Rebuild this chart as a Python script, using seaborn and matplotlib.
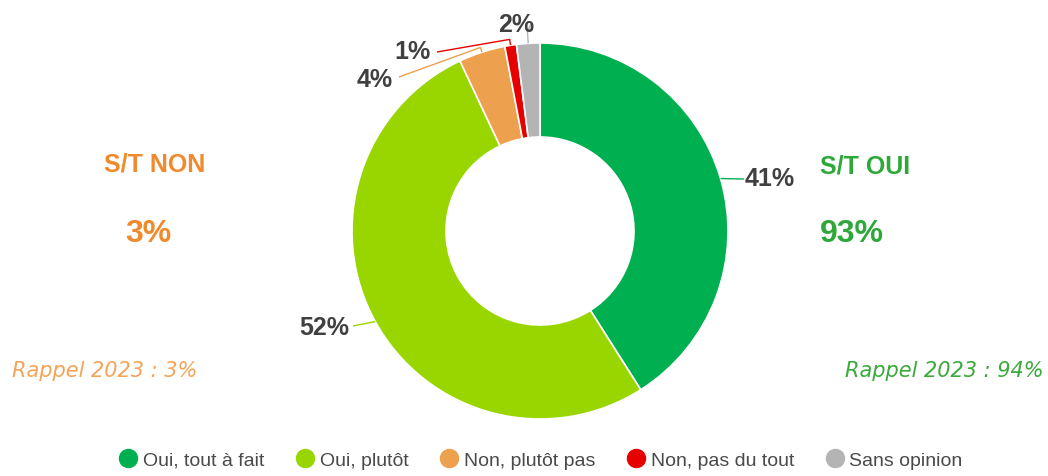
import numpy as np
import matplotlib
matplotlib.use("Agg")
import matplotlib.pyplot as plt
from matplotlib.lines import Line2D
import seaborn as sns

# data
categories = ["Oui, tout à fait", "Oui, plutôt", "Non, plutôt pas", "Non, pas du tout", "Sans opinion"]
values = [41, 52, 4, 1, 2]
value_labels = ["41%", "52%", "4%", "1%", "2%"]
colors = ["#00b050", "#99d600", "#eda04e", "#e60000", "#b4b4b4"]

total_oui_label = "S/T OUI"
total_oui = "93%"
rappel_oui = "Rappel 2023 : 94%"
total_non_label = "S/T NON"
total_non = "3%"
rappel_non = "Rappel 2023 : 3%"

# layout (pixel coordinates, y downwards)
CX, CY, R, RING = 540, 232, 188, 94
label_pos = [(770, 179), (324, 328), (375, 80), (413, 52), (516, 25)]
line_end = [(744, 180), (353, 327), (399, 78), (437, 53), (531, 25)]
elbow_r = [None, None, 193, 194, 200]

sns.set_theme(style="white")
plt.rcParams["font.family"] = ["Liberation Sans", "DejaVu Sans"]

fig = plt.figure(figsize=(10.48, 4.77), dpi=100)
ax = fig.add_axes([0, 0, 1, 1])

# inverted y axis -> counterclock in data space is clockwise on screen
ax.pie(values, colors=colors, radius=R, center=(CX, CY), startangle=-90,
       counterclock=True,
       wedgeprops=dict(width=RING, edgecolor="white", linewidth=1.2))
ax.set_xlim(0, 1048)
ax.set_ylim(477, 0)
ax.set_aspect("auto")
ax.axis("off")

# value labels with leader lines
cum = np.cumsum([0] + values[:-1])
for i, v in enumerate(values):
    theta = np.deg2rad((cum[i] + v / 2) / sum(values) * 360)
    px = CX + R * np.sin(theta)
    py = CY - R * np.cos(theta)
    xs, ys = [px], [py]
    if elbow_r[i] is not None:
        xs.append(CX + elbow_r[i] * np.sin(theta))
        ys.append(CY - elbow_r[i] * np.cos(theta))
    xs.append(line_end[i][0])
    ys.append(line_end[i][1])
    ax.plot(xs, ys, color=colors[i], lw=1, solid_capstyle="butt")
    ax.text(label_pos[i][0], label_pos[i][1], value_labels[i], ha="center", va="center",
            fontsize=18, fontweight="bold", color="#404040")

# side summaries
green_txt = "#2fa83a"
orange_txt = "#f08a2c"
ax.text(820, 167, total_oui_label, ha="left", va="center", fontsize=18,
        fontweight="bold", color=green_txt)
ax.text(820, 234, total_oui, ha="left", va="center", fontsize=23,
        fontweight="bold", color=green_txt)
ax.text(1044, 371, rappel_oui, ha="right", va="center", fontsize=15,
        style="italic", color="#3aaa3a", family=["DejaVu Sans"])

ax.text(155, 165, total_non_label, ha="center", va="center", fontsize=18,
        fontweight="bold", color=orange_txt)
ax.text(148, 234, total_non, ha="center", va="center", fontsize=23,
        fontweight="bold", color=orange_txt)
ax.text(12, 371, rappel_non, ha="left", va="center", fontsize=15,
        style="italic", color="#f2a55a", family=["DejaVu Sans"])

# legend
handles = [Line2D([], [], marker="o", ls="", markersize=13, markerfacecolor=c,
                  markeredgecolor=c) for c in colors]
fig.legend(handles, categories, loc="lower center", bbox_to_anchor=(0.515, -0.022),
           ncol=5, frameon=False, fontsize=14, handletextpad=0.15, handlelength=1.2,
           columnspacing=1.5, labelcolor="#4a4a4a")

fig.savefig("out.png", dpi=100, facecolor="white")
